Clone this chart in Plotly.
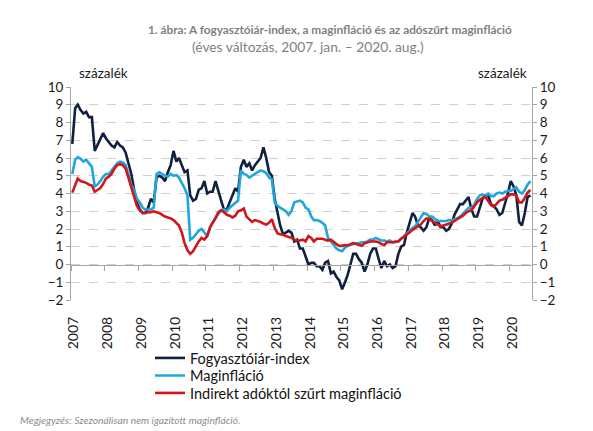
import pandas as pd
import plotly.graph_objects as go

# monthly, 2007 jan. - 2020 aug.
months = pd.date_range("2007-01-01", "2020-08-01", freq="MS") + pd.Timedelta(days=14)
years = list(range(2007, 2021))

cpi = [6.8, 8.8, 9.0, 8.7, 8.5, 8.6, 8.3, 8.3, 6.4, 6.7, 7.1, 7.4,
       7.1, 6.9, 6.7, 6.6, 6.9, 6.7, 6.6, 6.3, 5.7, 5.1, 4.2, 3.5,
       3.1, 2.9, 2.9, 3.2, 3.7, 3.5, 4.9, 5.0, 4.9, 4.7, 5.2, 5.6,
       6.4, 5.8, 6.0, 5.6, 5.2, 5.3, 3.9, 3.6, 3.7, 4.2, 4.3, 4.7,
       4.0, 4.1, 4.1, 4.7, 4.1, 3.6, 3.1, 3.1, 3.5, 3.9, 4.3, 4.1,
       5.5, 5.9, 5.5, 5.7, 5.3, 5.6, 5.8, 6.0, 6.6, 6.0, 5.2, 5.0,
       3.7, 2.8, 2.2, 1.7, 1.8, 1.9, 1.8, 1.3, 1.4, 0.9, 0.9, 0.4,
       0.0, 0.1, 0.1, -0.1, -0.1, -0.3, 0.1, 0.2, -0.5, -0.4, -0.7, -0.9,
       -1.4, -1.0, -0.6, 0.0, 0.6, 0.6, 0.3, 0.1, -0.4, 0.0, 0.6, 0.9,
       0.9, 0.3, -0.2, 0.2, -0.1, 0.0, -0.2, -0.1, 0.6, 1.0, 1.1, 1.8,
       2.3, 2.9, 2.7, 2.2, 2.1, 1.9, 2.1, 2.6, 2.5, 2.2, 2.5, 2.1,
       2.1, 1.9, 2.0, 2.3, 2.8, 3.1, 3.4, 3.4, 3.6, 3.8, 3.1, 2.7,
       2.7, 3.2, 3.7, 3.9, 3.9, 3.4, 3.3, 3.1, 2.8, 2.9, 3.4, 4.0,
       4.7, 4.4, 3.9, 2.4, 2.2, 2.9, 3.8, 3.9]

core = [5.1, 5.9, 6.05, 5.95, 5.8, 5.9, 5.7, 5.5, 4.4, 4.5, 4.7, 4.95,
        5.1, 5.1, 5.3, 5.5, 5.7, 5.8, 5.75, 5.6, 5.0, 4.5, 4.2, 3.7,
        3.5, 3.2, 3.1, 3.1, 3.1, 3.2, 5.1, 5.2, 5.1, 5.0, 4.95, 5.1,
        5.0, 5.05, 4.9, 4.6, 4.3, 3.9, 1.4, 1.5, 1.7, 1.9, 2.0, 1.8,
        1.6, 2.1, 2.4, 2.65, 2.85, 3.05, 3.1, 3.0, 3.2, 3.35, 3.5, 3.6,
        5.3, 5.1, 5.05, 4.9, 5.0, 5.1, 5.2, 5.3, 5.25, 5.15, 4.9, 4.8,
        3.5, 3.3, 3.2, 3.1, 3.0, 2.8, 3.0, 3.5, 3.55, 3.6, 3.5, 3.2,
        3.1, 2.7, 2.5, 2.5, 2.45, 2.35, 2.2, 1.5, 1.3, 1.1, 0.9, 0.8,
        0.75, 0.95, 1.05, 1.1, 1.15, 1.2, 1.2, 1.25, 1.25, 1.3, 1.4, 1.4,
        1.5, 1.4, 1.35, 1.35, 1.3, 1.35, 1.25, 1.25, 1.3, 1.45, 1.6, 1.75,
        1.95, 2.05, 2.15, 2.4, 2.7, 2.9, 2.85, 2.7, 2.7, 2.55, 2.45, 2.45,
        2.45, 2.45, 2.5, 2.5, 2.55, 2.6, 2.7, 2.85, 3.05, 3.2, 3.2, 3.35,
        3.7, 3.9, 3.95, 3.85, 4.0, 3.85, 3.85, 4.0, 4.05, 4.0, 4.1, 4.15,
        4.15, 4.25, 4.35, 4.1, 4.0, 4.2, 4.5, 4.7]

core_tax = [4.05, 4.5, 4.85, 4.7, 4.65, 4.6, 4.5, 4.45, 4.1, 4.2, 4.3, 4.55,
            4.85, 4.95, 5.1, 5.4, 5.6, 5.65, 5.6, 5.4, 4.85, 4.3, 3.8, 3.3,
            3.05, 2.9, 2.9, 2.95, 2.95, 3.0, 2.95, 2.9, 2.8, 2.7, 2.65, 2.6,
            2.5, 2.35, 2.2, 1.8, 1.2, 0.8, 0.6, 0.75, 1.05, 1.3, 1.5, 1.4,
            1.6, 2.1, 2.35, 2.6, 2.95, 3.05, 2.95, 2.8, 2.75, 2.65, 2.75, 3.0,
            3.05, 3.15, 2.7, 2.55, 2.4, 2.5, 2.45, 2.4, 2.3, 2.25, 2.35, 2.55,
            2.05, 1.75, 1.7, 1.68, 1.6, 1.55, 1.5, 1.4, 1.35, 1.35, 1.4, 1.3,
            1.6, 1.5, 1.3, 1.45, 1.45, 1.45, 1.4, 1.35, 1.4, 1.25, 1.15, 1.05,
            1.05, 1.1, 1.07, 1.15, 1.2, 1.15, 1.1, 1.05, 1.2, 1.25, 1.3, 1.3,
            1.3, 1.25, 1.15, 1.1, 1.25, 1.25, 1.25, 1.3, 1.3, 1.45, 1.55, 1.7,
            1.8, 1.95, 2.05, 2.15, 2.25, 2.45, 2.6, 2.55, 2.45, 2.35, 2.25, 2.15,
            2.2, 2.25, 2.3, 2.35, 2.45, 2.55, 2.65, 2.75, 2.9, 3.0, 3.05, 3.3,
            3.5, 3.65, 3.75, 3.8, 3.55, 3.35, 3.25, 3.45, 3.6, 3.65, 3.75, 3.85,
            3.95, 3.95, 3.9, 3.5, 3.5, 3.75, 4.05, 4.2]

FONT = "Lato"
GRAY = "#a6a6a6"
x_range = ["2007-01-01", "2020-09-01"]
year_ticks = [pd.Timestamp(f"{y}-01-01") for y in years]
label_ticks = [pd.Timestamp(f"{y}-02-01") for y in years]

# plot area wanted at x 71..532, y 87..300 of the window (page body adds 8px)
L, T, W, H = 63, 79, 461, 213


def px(x):
    return (x - 71) / W


def py(y):
    return (300 - y) / H


series = [("Fogyasztóiár-index", cpi, "#10213f", "legend", 358),
          ("Maginfláció", core, "#1ea6dd", "legend2", 375.5),
          ("Indirekt adóktól szűrt maginfláció", core_tax, "#d0161b", "legend3", 393)]

fig = go.Figure()
legends = {}
for name, vals, color, leg, ly in series:
    fig.add_trace(go.Scatter(x=months, y=vals, name=name, mode="lines", legend=leg,
                             line=dict(color=color, width=2.6)))
    legends[leg] = dict(x=px(150), y=py(ly), xanchor="left", yanchor="middle",
                        font=dict(size=14.5, color="#111111"),
                        bgcolor="rgba(0,0,0,0)")
# invisible helper so the right axis and the axis line at zero get drawn
fig.add_trace(go.Scatter(x=months, y=cpi, xaxis="x2", yaxis="y2", mode="lines",
                         opacity=0, showlegend=False, hoverinfo="skip"))

fig.update_layout(
    width=593, height=431,
    margin=dict(l=L, r=593 - L - W, t=T, b=431 - T - H, pad=0),
    paper_bgcolor="white", plot_bgcolor="white",
    font=dict(family=FONT, size=12, color="#1a1a1a"),
    showlegend=True,
    xaxis=dict(range=x_range, type="date", tickvals=label_ticks,
               ticktext=[str(y) for y in years], tickangle=-90,
               ticks="", showline=False, showgrid=False, zeroline=False,
               ticklabelstandoff=13, tickfont=dict(size=14)),
    xaxis2=dict(range=x_range, type="date", overlaying="x", anchor="free",
                position=2 / 12, tickvals=year_ticks, showticklabels=False,
                ticks="outside", ticklen=5, tickcolor=GRAY, showline=True,
                linecolor=GRAY, linewidth=1, showgrid=False, zeroline=False),
    yaxis=dict(range=[-2, 10], dtick=1, ticks="outside", ticklen=4,
               tickcolor=GRAY, showline=True, linecolor=GRAY,
               showgrid=True, gridcolor="#cfcfcf", griddash="dash",
               gridwidth=1, zeroline=False, tickfont=dict(size=13.5)),
    yaxis2=dict(range=[-2, 10], dtick=1, overlaying="y", side="right",
                ticks="outside", ticklen=4, tickcolor=GRAY, showline=True,
                linecolor=GRAY, showgrid=False, zeroline=False,
                tickfont=dict(size=13.5)),
    **legends,
)

notes = [
    dict(text="<b>1. ábra: A fogyasztóiár-index, a maginfláció és az adószűrt maginfláció</b>",
         x=330, y=29, size=11.8, color="#7f7f7f"),
    dict(text="(éves változás, 2007. jan. – 2020. aug.)",
         x=308, y=47, size=13.8, color="#7f7f7f"),
    dict(text="százalék", x=103, y=73, size=13.5, color="#1a1a1a"),
    dict(text="százalék", x=502, y=73, size=13.5, color="#1a1a1a"),
]
for n in notes:
    fig.add_annotation(text=n["text"], x=px(n["x"]), y=py(n["y"]),
                       xref="paper", yref="paper",
                       xanchor="center", yanchor="middle", showarrow=False,
                       font=dict(family=FONT, size=n["size"], color=n["color"]))

fig.add_annotation(text="<i>Megjegyzés: Szezonálisan nem igazított maginfláció.</i>",
                   x=px(18), y=py(420), xref="paper", yref="paper",
                   xanchor="left", yanchor="middle", showarrow=False,
                   font=dict(family=FONT, size=10.3, color="#8c8c8c"))

fig.write_html("out.html")
